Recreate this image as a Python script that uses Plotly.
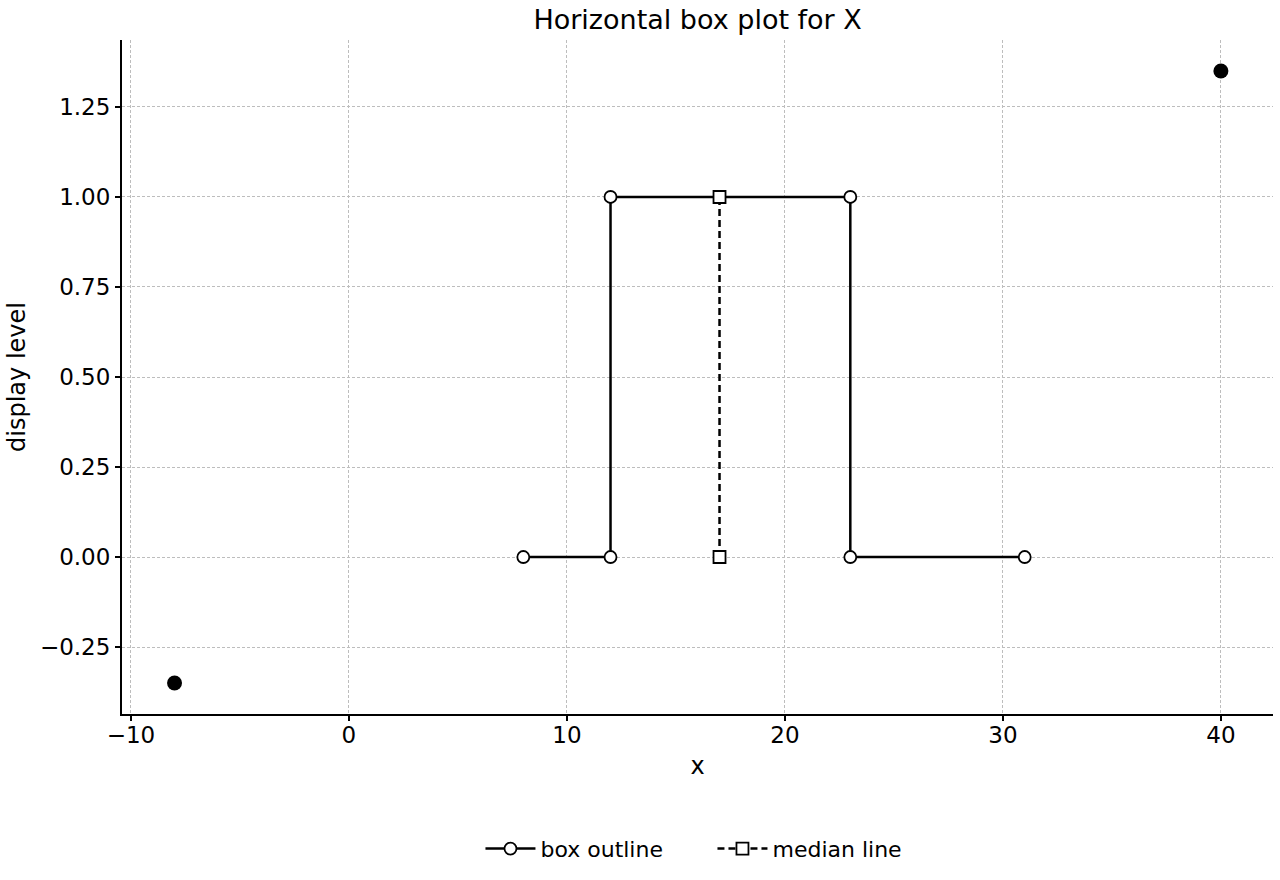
import plotly.graph_objects as go

box_x = [8, 12, 12, 23, 23, 31]
box_y = [0, 0, 1, 1, 0, 0]
median_x = [17, 17]
median_y = [0, 1]
outlier_x = [-8, 40]
outlier_y = [-0.35, 1.35]

xticks = [-10, 0, 10, 20, 30, 40]
yticks = [-0.25, 0.0, 0.25, 0.5, 0.75, 1.0, 1.25]
yticktext = ["\u22120.25", "0.00", "0.25", "0.50", "0.75", "1.00", "1.25"]
xticktext = ["\u221210", "0", "10", "20", "30", "40"]

font = "DejaVu Sans"
fig = go.Figure()
fig.add_trace(go.Scatter(
    x=box_x, y=box_y, mode="lines+markers", name="box outline",
    line=dict(color="black", width=2.5),
    marker=dict(symbol="circle", size=12, color="white", line=dict(color="black", width=1.8)),
))
fig.add_trace(go.Scatter(
    x=median_x, y=median_y, mode="lines+markers", name="median line",
    line=dict(color="black", width=2.5, dash="7px,4px"),
    marker=dict(symbol="square", size=12, color="white", line=dict(color="black", width=1.8)),
))
fig.add_trace(go.Scatter(
    x=outlier_x, y=outlier_y, mode="markers", showlegend=False,
    marker=dict(symbol="circle", size=15, color="black"),
))

axis_common = dict(
    showgrid=True, gridcolor="#bdbdbd", griddash="3px,2px", gridwidth=1,
    zeroline=False, showline=True, linecolor="black", linewidth=2,
    ticks="outside", ticklen=5, tickwidth=1.5, tickcolor="black",
    tickfont=dict(size=23, color="black", family=font),
    mirror=False,
)
fig.update_layout(
    width=1280, height=880,
    paper_bgcolor="white", plot_bgcolor="white",
    margin=dict(l=122, r=7, t=40, b=166),
    font=dict(family=font, color="black"),
    title=dict(text="Horizontal box plot for X", x=0.545, xanchor="center",
               y=0.978, yanchor="middle", font=dict(size=27, family=font, color="black")),
    xaxis=dict(range=[-10.41, 42.39], tickvals=xticks, ticktext=xticktext, ticklabelstandoff=-6,
               title=dict(text="x", font=dict(size=24, family=font), standoff=11), **axis_common),
    yaxis=dict(range=[-0.436, 1.436], tickvals=yticks, ticktext=yticktext,
               title=dict(text="display level", font=dict(size=24, family=font), standoff=8), **axis_common),
    legend=dict(orientation="h", x=0.513, xanchor="center", y=-0.2, yanchor="middle",
                font=dict(size=22, family=font, color="black"), itemwidth=50,
                entrywidth=167, entrywidthmode="pixels"),
)
fig.write_html("out.html")
